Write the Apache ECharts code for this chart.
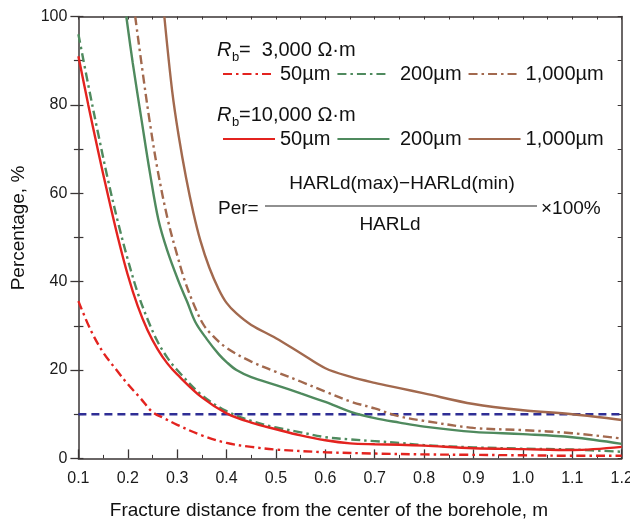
<!DOCTYPE html>
<html>
<head>
<meta charset="utf-8">
<script src="https://cdn.jsdelivr.net/npm/echarts@6/dist/echarts.min.js"></script>
<style>
  html, body { margin: 0; padding: 0; background: #ffffff; }
  #chart { width: 630px; height: 521px; }
</style>
</head>
<body>
<div id="chart"></div>
<script>
// Axis ticks
const xMin = 0.1, xMax = 1.2, xStep = 0.1;
const yMin = 0, yMax = 100, yStep = 20;

// Rb = 3,000 Ω·m (dash-dot curves)
const rb3k_50_x  = [0.1, 0.125, 0.15, 0.175, 0.2, 0.225, 0.25, 0.275, 0.3, 0.35, 0.4, 0.45, 0.5, 0.6, 0.7, 0.8, 0.9, 1.0, 1.1, 1.2];
const rb3k_50_y  = [35.6, 29, 24, 20.3, 16.8, 13.7, 10.5, 9.0, 7.6, 5.2, 3.5, 2.6, 2.0, 1.4, 1.1, 0.9, 0.8, 0.7, 0.6, 0.6];

const rb3k_200_x = [0.1, 0.12, 0.14, 0.16, 0.18, 0.2, 0.22, 0.24, 0.26, 0.28, 0.3, 0.35, 0.4, 0.45, 0.5, 0.55, 0.6, 0.65, 0.7, 0.75, 0.8, 0.9, 1.0, 1.1, 1.2];
const rb3k_200_y = [96, 84.5, 73.5, 63, 53.5, 45, 37.5, 31.5, 26.5, 22.8, 20.0, 14.3, 10.7, 8.5, 7.0, 5.9, 4.8, 4.3, 3.9, 3.5, 3.0, 2.5, 2.2, 2.0, 1.5];

const rb3k_1000_x = [0.215, 0.23, 0.244, 0.26, 0.281, 0.3, 0.316, 0.335, 0.353, 0.37, 0.4, 0.45, 0.5, 0.55, 0.6, 0.65, 0.7, 0.75, 0.8, 0.9, 1.0, 1.1, 1.2];
const rb3k_1000_y = [100, 87.5, 76.5, 65.5, 54, 46, 40, 34.5, 30.3, 28.0, 25.0, 21.9, 19.6, 17.4, 15.1, 12.9, 11.3, 9.5, 8.5, 6.9, 6.4, 5.7, 4.5];

// Rb = 10,000 Ω·m (solid curves)
const rb10k_50_x  = [0.1, 0.12, 0.14, 0.16, 0.18, 0.2, 0.22, 0.24, 0.26, 0.28, 0.3, 0.35, 0.4, 0.45, 0.5, 0.55, 0.6, 0.65, 0.7, 0.75, 0.8, 0.9, 1.0, 1.1, 1.2];
const rb10k_50_y  = [91, 80, 69.5, 59.5, 50, 41.5, 34.5, 29, 24.8, 21.5, 19, 13.8, 10.2, 8.1, 6.6, 5.2, 4.1, 3.4, 3.2, 3.1, 2.9, 2.3, 2.1, 1.9, 2.6];

const rb10k_200_x = [0.197, 0.21, 0.228, 0.245, 0.262, 0.28, 0.303, 0.32, 0.337, 0.36, 0.384, 0.4, 0.42, 0.45, 0.5, 0.55, 0.6, 0.65, 0.7, 0.75, 0.8, 0.9, 1.0, 1.1, 1.2];
const rb10k_200_y = [100, 89.5, 76.5, 64.5, 54, 47, 40, 35.5, 30.8, 27, 23.6, 21.8, 20.0, 18.4, 16.6, 14.7, 12.8, 10.6, 9.1, 8.1, 7.2, 6.0, 5.5, 4.8, 3.3];

const rb10k_1000_x = [0.274, 0.29, 0.303, 0.318, 0.333, 0.347, 0.365, 0.384, 0.4, 0.42, 0.45, 0.5, 0.55, 0.6, 0.65, 0.7, 0.75, 0.8, 0.9, 1.0, 1.1, 1.2];
const rb10k_1000_y = [100, 83, 73, 63.5, 55.5, 49.3, 43.2, 38.3, 35.2, 32.8, 30.2, 27.2, 23.8, 20.4, 18.5, 17.1, 15.9, 14.7, 12.3, 10.9, 10.0, 8.7];

// 10 % reference level
const refLine_x = [0.1, 1.2];
const refLine_y = [10, 10];

const RED = '#e3231f', GREEN = '#4f8a5e', BROWN = '#a2694e', BLUE = '#2f2e95';
const DASHDOT = [9, 4, 2.5, 4];
const FONT = 'Liberation Sans, Arial, sans-serif';
const AXIS_COLOR = '#3a3535';

function pairs(xs, ys) { return xs.map((x, i) => [x, ys[i]]); }

function curve(name, xs, ys, color, dashed) {
  return {
    type: 'line', name: name, xAxisIndex: 0, yAxisIndex: 0,
    data: pairs(xs, ys), showSymbol: false, symbol: 'none',
    smooth: 0.35, clip: true,
    lineStyle: { color: color, width: 2.4, type: dashed ? DASHDOT : 'solid' },
    itemStyle: { color: color },
    emphasis: { disabled: true }, silent: true, z: 3
  };
}

const chart = echarts.init(document.getElementById('chart'), null, { renderer: 'canvas' });

const hidden = { show: false };

// legend rows: line sample + label only, no marker
const legendRow = (top, keys) => ({
  left: 217, top: top, orient: 'horizontal', itemWidth: 52, itemHeight: 16, itemGap: 6,
  data: keys,
  formatter: n => (n.startsWith('200') ? ' ' : '') + n.split('|')[0],
  textStyle: { color: '#111', fontSize: 20, fontFamily: FONT },
  itemStyle: { color: 'rgba(0,0,0,0)', borderColor: 'rgba(0,0,0,0)', borderWidth: 0, opacity: 0 },
  selectedMode: false
});

const option = {
  animation: false,
  backgroundColor: '#ffffff',
  grid: { left: 78.4, right: 8.3, top: 16.5, bottom: 62.6, containLabel: false, outerBoundsMode: 'none' },
  xAxis: [
    { // bottom axis with labels
      type: 'value', min: xMin, max: xMax, interval: xStep, position: 'bottom',
      axisLine: { show: true, onZero: false, lineStyle: { color: AXIS_COLOR, width: 1.5 } },
      axisTick: { show: true, inside: true, length: 9, lineStyle: { color: AXIS_COLOR, width: 1.3 } },
      minorTick: { show: true, splitNumber: 2, length: 3.5, lineStyle: { color: AXIS_COLOR, width: 1 } },
      axisLabel: { color: '#1a1a1a', fontSize: 16, fontFamily: FONT, margin: 12,
                   formatter: v => v.toFixed(1), showMinLabel: true, showMaxLabel: true },
      splitLine: hidden
    },
    { // top frame
      type: 'value', min: xMin, max: xMax, interval: 0.05, position: 'top',
      axisLine: { show: true, onZero: false, lineStyle: { color: AXIS_COLOR, width: 1.5 } },
      axisTick: { show: true, inside: true, length: 3, lineStyle: { color: AXIS_COLOR, width: 1 } },
      axisLabel: hidden, splitLine: hidden
    }
  ],
  yAxis: [
    { // left axis with labels, ticks outward
      type: 'value', min: yMin, max: yMax, interval: yStep, position: 'left',
      axisLine: { show: true, onZero: false, lineStyle: { color: AXIS_COLOR, width: 1.5 } },
      axisTick: { show: true, inside: false, length: 8, lineStyle: { color: AXIS_COLOR, width: 1.3 } },
      minorTick: { show: true, splitNumber: 2, length: 4.5, lineStyle: { color: AXIS_COLOR, width: 1.2 } },
      axisLabel: { color: '#1a1a1a', fontSize: 16, fontFamily: FONT, margin: 11 },
      splitLine: hidden
    },
    { // right frame, inward ticks
      type: 'value', min: yMin, max: yMax, interval: 10, position: 'right',
      axisLine: { show: true, onZero: false, lineStyle: { color: AXIS_COLOR, width: 1.5 } },
      axisTick: { show: true, inside: true, length: 4, lineStyle: { color: AXIS_COLOR, width: 1 } },
      axisLabel: hidden, splitLine: hidden
    },
    { // left side inward ticks
      type: 'value', min: yMin, max: yMax, interval: 10, position: 'left', offset: 0,
      axisLine: hidden,
      axisTick: { show: true, inside: true, length: 5, lineStyle: { color: AXIS_COLOR, width: 1.2 } },
      axisLabel: hidden, splitLine: hidden
    }
  ],
  legend: [
    legendRow(59, ['50µm|3k', '200µm|3k', '1,000µm|3k']),
    legendRow(124, ['50µm|10k', '200µm|10k', '1,000µm|10k'])
  ],
  graphic: [
    // axis titles
    { type: 'text', x: 329, y: 511, style: { text: 'Fracture distance from the center of the borehole, m',
      fill: '#111', font: '19px ' + FONT, align: 'center', verticalAlign: 'middle' } },
    { type: 'text', x: 19, y: 228, rotation: Math.PI / 2, style: { text: 'Percentage, %',
      fill: '#111', font: '19px ' + FONT, align: 'center', verticalAlign: 'middle' } },
    // legend group headers
    { type: 'text', x: 217, y: 50, style: { text: 'R', fill: '#111', font: 'italic 20px ' + FONT, verticalAlign: 'middle' } },
    { type: 'text', x: 232, y: 57, style: { text: 'b', fill: '#111', font: '13px ' + FONT, verticalAlign: 'middle' } },
    { type: 'text', x: 239, y: 50, style: { text: '=  3,000 Ω·m', fill: '#111', font: '20px ' + FONT, verticalAlign: 'middle' } },
    { type: 'text', x: 217, y: 115, style: { text: 'R', fill: '#111', font: 'italic 20px ' + FONT, verticalAlign: 'middle' } },
    { type: 'text', x: 232, y: 122, style: { text: 'b', fill: '#111', font: '13px ' + FONT, verticalAlign: 'middle' } },
    { type: 'text', x: 239, y: 115, style: { text: '=10,000 Ω·m', fill: '#111', font: '20px ' + FONT, verticalAlign: 'middle' } },
    // formula
    { type: 'text', x: 218, y: 209, style: { text: 'Per=', fill: '#111', font: '19px ' + FONT, verticalAlign: 'middle' } },
    { type: 'line', shape: { x1: 265, y1: 206, x2: 537, y2: 206 }, style: { stroke: '#222', lineWidth: 1.2 } },
    { type: 'text', x: 402, y: 184, style: { text: 'HARLd(max)\u2212HARLd(min)', fill: '#111', font: '19px ' + FONT, align: 'center', verticalAlign: 'middle' } },
    { type: 'text', x: 390, y: 225, style: { text: 'HARLd', fill: '#111', font: '19px ' + FONT, align: 'center', verticalAlign: 'middle' } },
    { type: 'text', x: 541, y: 209, style: { text: '\u00d7100%', fill: '#111', font: '19px ' + FONT, verticalAlign: 'middle' } }
  ],
  series: [
    {
      type: 'line', name: 'ref10', data: pairs(refLine_x, refLine_y), showSymbol: false, symbol: 'none',
      lineStyle: { color: BLUE, width: 2.4, type: [8, 5] }, silent: true, z: 2
    },
    curve('50µm|3k', rb3k_50_x, rb3k_50_y, RED, true),
    curve('200µm|3k', rb3k_200_x, rb3k_200_y, GREEN, true),
    curve('1,000µm|3k', rb3k_1000_x, rb3k_1000_y, BROWN, true),
    curve('50µm|10k', rb10k_50_x, rb10k_50_y, RED, false),
    curve('200µm|10k', rb10k_200_x, rb10k_200_y, GREEN, false),
    curve('1,000µm|10k', rb10k_1000_x, rb10k_1000_y, BROWN, false)
  ]
};

chart.setOption(option);
</script>
</body>
</html>
